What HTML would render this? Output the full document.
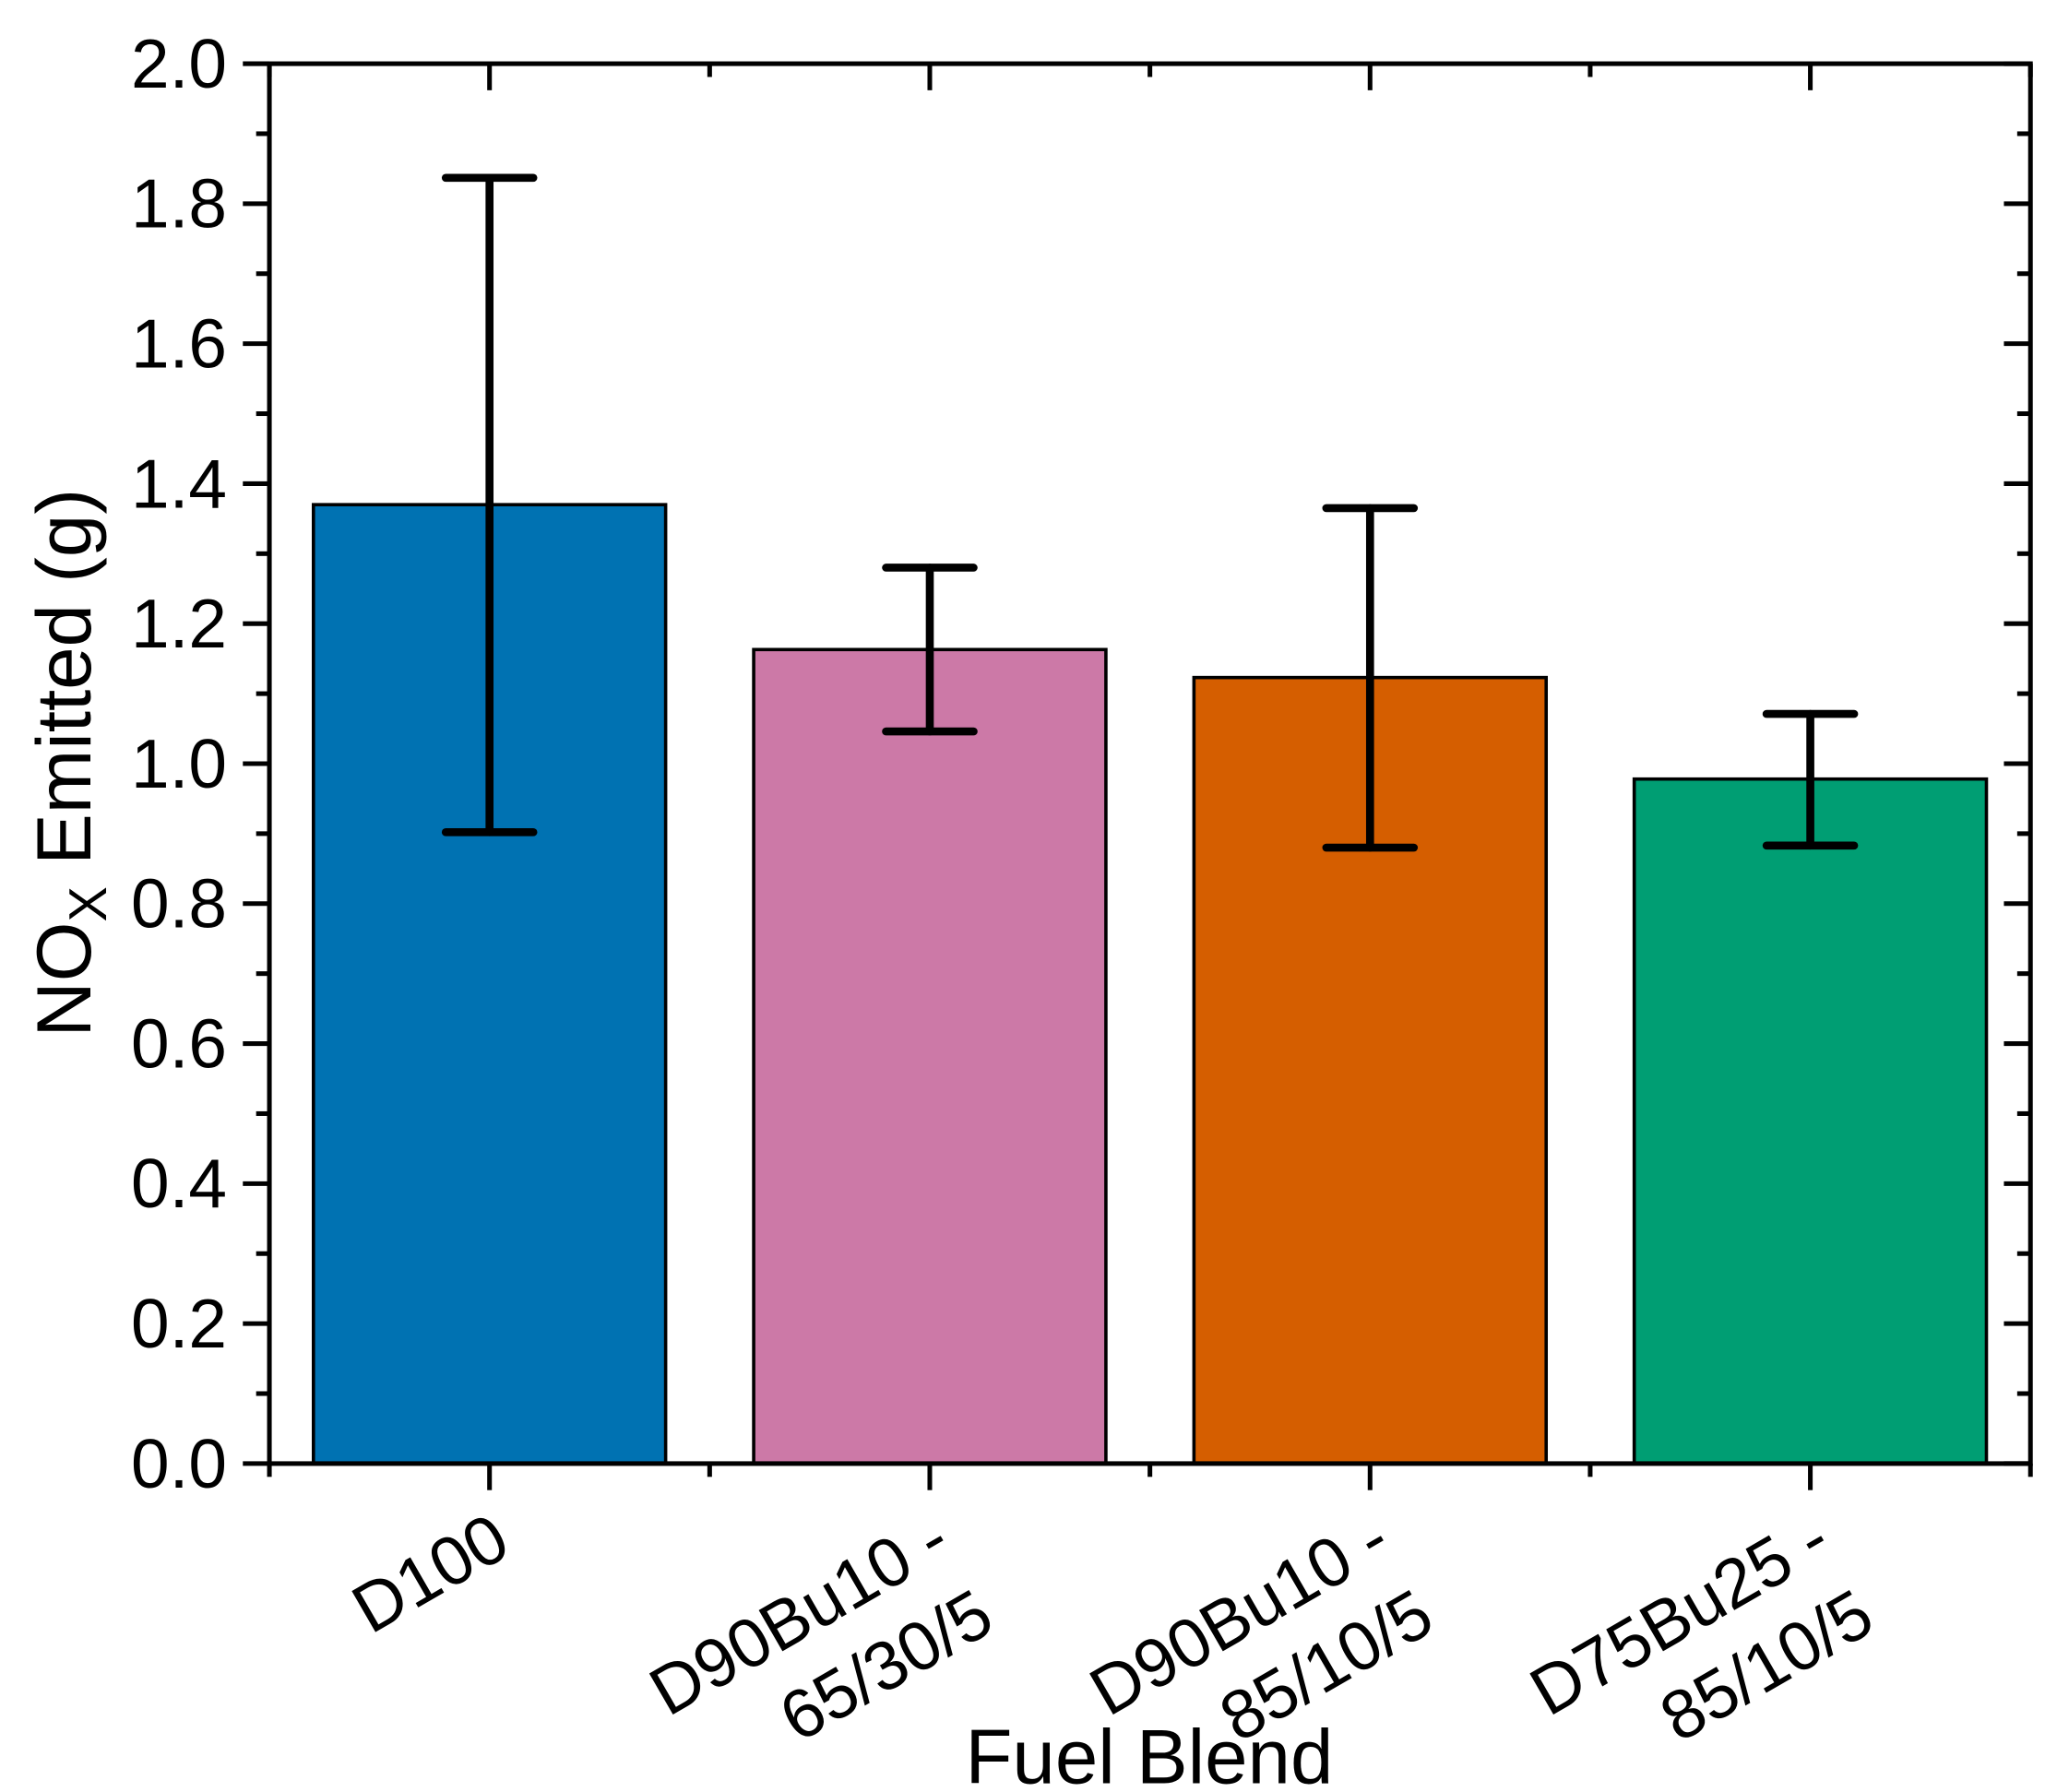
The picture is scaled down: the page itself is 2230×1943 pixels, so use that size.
<!DOCTYPE html>
<html><head><meta charset="utf-8"><style>
html,body{margin:0;padding:0;background:#fff;}
svg{display:block;font-family:"Liberation Sans",Arial,sans-serif;}
</style></head><body>
<svg id="chart" width="2230" height="1943" viewBox="0 0 1550 1350.5" xmlns="http://www.w3.org/2000/svg">
<rect width="1550" height="1350.5" fill="#fff"/>
<g id="bars"></g>
<g id="errs"></g>
<g id="axes"></g>
<text x="866" y="1344" font-size="58" text-anchor="middle">Fuel Blend</text>
<text transform="translate(68,575) rotate(-90)" font-size="58" text-anchor="middle">NO<tspan font-size="40" dy="12">X</tspan><tspan dy="-12"> Emitted (g)</tspan></text>
</svg>
<script>
const categories = [["D100"],["D90Bu10 -","65/30/5"],["D90Bu10 -","85/10/5"],["D75Bu25 -","85/10/5"]];
const values = [1.37, 1.163, 1.123, 0.978];
const errUpper = [1.837, 1.280, 1.365, 1.071];
const errLower = [0.902, 1.046, 0.880, 0.883];
const colors = ["#0072b2","#cc79a7","#d55e00","#009e73"];
const yTicks = ["0.0","0.2","0.4","0.6","0.8","1.0","1.2","1.4","1.6","1.8","2.0"];

const NS="http://www.w3.org/2000/svg";
const L=203,R=1530,T=48,B=1103,yMin=0,yMax=2;
const xs=i=>L+(i+0.5)*(R-L)/categories.length;
const ys=v=>B-(v-yMin)/(yMax-yMin)*(B-T);
const bw=0.8*(R-L)/categories.length;
function mk(tag,attrs,parent){const e=document.createElementNS(NS,tag);for(const k in attrs)e.setAttribute(k,attrs[k]);parent.appendChild(e);return e;}
const gb=document.getElementById('bars'),ge=document.getElementById('errs'),ga=document.getElementById('axes');
values.forEach((v,i)=>{
  const r=mk('rect',{x:xs(i)-bw/2,y:ys(v),width:bw,height:ys(0)-ys(v),fill:colors[i],stroke:'#000','stroke-width':2.5},gb);
  
  
  const g=mk('g',{stroke:'#000','stroke-width':6,'stroke-linecap':'round'},ge);
  
  
  const cx=xs(i);
  mk('line',{x1:cx,x2:cx,y1:ys(errUpper[i]),y2:ys(errLower[i])},g);
  mk('line',{x1:cx-33,x2:cx+33,y1:ys(errUpper[i]),y2:ys(errUpper[i])},g);
  mk('line',{x1:cx-33,x2:cx+33,y1:ys(errLower[i]),y2:ys(errLower[i])},g);
});
const fr=mk('rect',{x:L,y:T,width:R-L,height:B-T,fill:'none',stroke:'#000','stroke-width':3.5},ga);


const tk=mk('g',{stroke:'#000','stroke-width':3.5},ga);


yTicks.forEach((t,i)=>{
  const v=parseFloat(t),y=ys(v);
  mk('line',{x1:L-20,x2:L,y1:y,y2:y},tk);
  mk('line',{x1:R,x2:R-20,y1:y,y2:y},tk);
  const tx=mk('text',{x:171,y:y+18,'font-size':52,'text-anchor':'end'},ga);
  tx.textContent=t;
  
  
  if(i<yTicks.length-1){const ym=ys(v+0.1);
    mk('line',{x1:L-10,x2:L,y1:ym,y2:ym},tk);
    mk('line',{x1:R,x2:R-10,y1:ym,y2:ym},tk);}
});
const step=(R-L)/categories.length;
for(let i=0;i<=categories.length;i++){const x=L+i*step;
  mk('line',{x1:x,x2:x,y1:B,y2:B+10},tk);
  mk('line',{x1:x,x2:x,y1:T,y2:T+10},tk);}
categories.forEach((c,i)=>{const x=xs(i);
  mk('line',{x1:x,x2:x,y1:B,y2:B+20},tk);
  mk('line',{x1:x,x2:x,y1:T,y2:T+20},tk);
  const tx=mk('text',{transform:`translate(${x+18},1170) rotate(-30)`,'font-size':52,'text-anchor':'end'},ga);
  
  
  c.forEach((line,j)=>{const s=mk('tspan',{x:0,y:j*66},tx);s.textContent=line;});
});
</script>
</body></html>
